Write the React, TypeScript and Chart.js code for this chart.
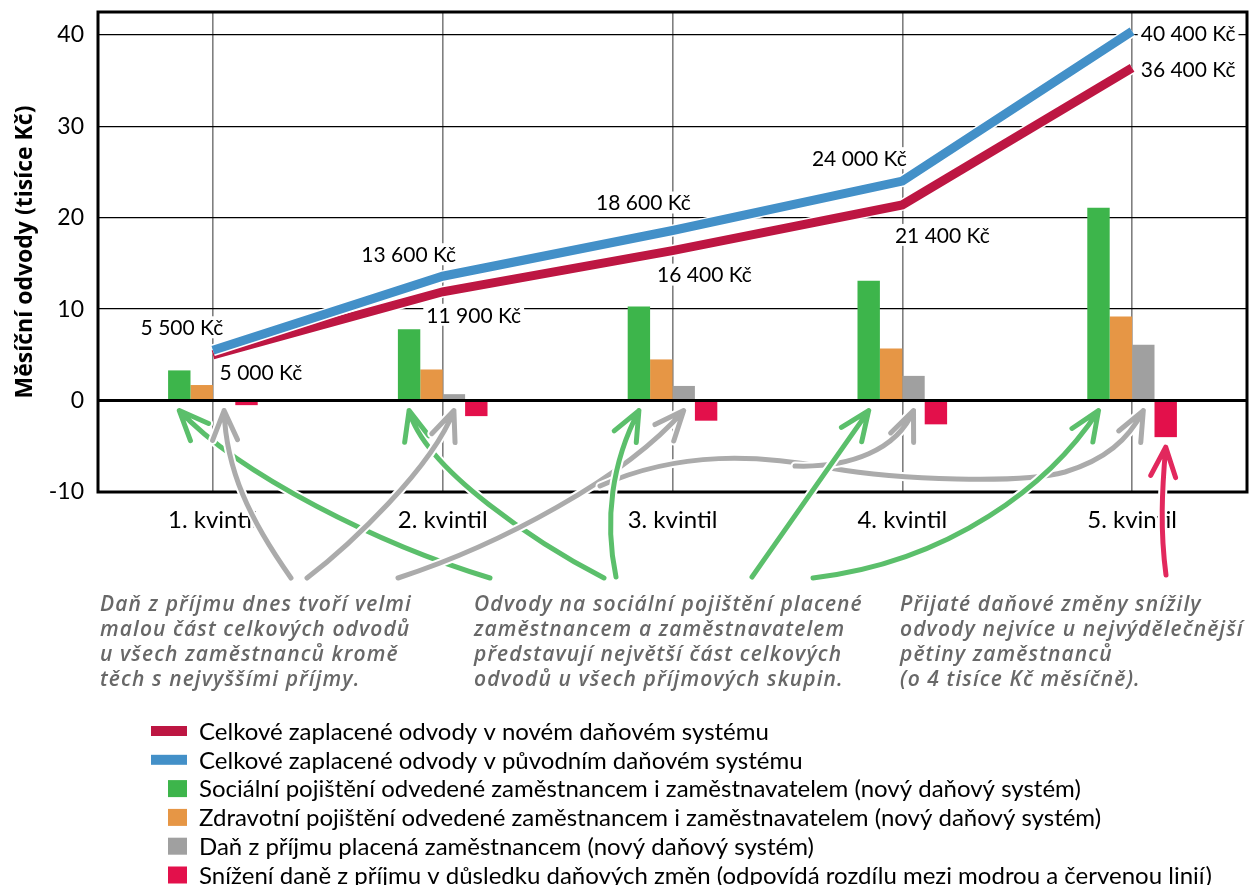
import React, { useEffect, useRef } from "react";
import { Chart, registerables } from "chart.js";

Chart.register(...registerables);

// ---------- data ----------
const categories = ["1. kvintil", "2. kvintil", "3. kvintil", "4. kvintil", "5. kvintil"];
const totalNewSystem = [5.0, 11.9, 16.4, 21.4, 36.4];
const totalOriginalSystem = [5.5, 13.6, 18.6, 24.0, 40.4];
const totalNewLabels = ["5 000 Kč", "11 900 Kč", "16 400 Kč", "21 400 Kč", "36 400 Kč"];
const totalOriginalLabels = ["5 500 Kč", "13 600 Kč", "18 600 Kč", "24 000 Kč", "40 400 Kč"];
const socialInsurance = [3.3, 7.8, 10.3, 13.1, 21.1];
const healthInsurance = [1.7, 3.4, 4.5, 5.7, 9.2];
const incomeTax = [0.1, 0.7, 1.6, 2.7, 6.1];
const taxCut = [-0.5, -1.7, -2.2, -2.6, -4.0];
const yTicks = [-10, 0, 10, 20, 30, 40];

const yTitle = "Měsíční odvody (tisíce Kč)";
const seriesNames = [
  "Celkové zaplacené odvody v novém daňovém systému",
  "Celkové zaplacené odvody v původním daňovém systému",
  "Sociální pojištění odvedené zaměstnancem i zaměstnavatelem (nový daňový systém)",
  "Zdravotní pojištění odvedené zaměstnancem i zaměstnavatelem (nový daňový systém)",
  "Daň z příjmu placená zaměstnancem (nový daňový systém)",
  "Snížení daně z příjmu v důsledku daňových změn (odpovídá rozdílu mezi modrou a červenou linií)",
];

const noteIncomeTax = [
  "Daň z příjmu dnes tvoří velmi",
  "malou část celkových odvodů",
  "u všech zaměstnanců kromě",
  "těch s nejvyššími příjmy.",
];
const noteSocial = [
  "Odvody na sociální pojištění placené",
  "zaměstnancem a zaměstnavatelem",
  "představují největší část celkových",
  "odvodů u všech příjmových skupin.",
];
const noteCut = [
  "Přijaté daňové změny snížily",
  "odvody nejvíce u nejvýdělečnější",
  "pětiny zaměstnanců",
  "(o 4 tisíce Kč měsíčně).",
];

// ---------- styles ----------
const C_RED_LINE = "#bd1642";
const C_BLUE_LINE = "#4390c8";
const C_GREEN = "#3db54b";
const C_ORANGE = "#e69645";
const C_GRAY = "#a0a0a0";
const C_CUT = "#e3104b";
const C_ARROW_GREEN = "#5bbf6b";
const C_ARROW_GRAY = "#ababab";
const C_ARROW_RED = "#e2285d";
const FONT = "Lato";
const NOTE_FONT = 'italic 600 21px "Open Sans"';

const origLabelOffsets: [number, number][] = [[-31, -23], [-34, -22], [-29, -28], [-43, -23], [56, 2]];
const newLabelOffsets: [number, number][] = [[48, 17], [31, 23], [32, 24], [40, 30], [56, 1]];

type Pt = [number, number];
interface ArrowSpec {
  color: string;
  path: Pt[];
  ds: number;
  idx: number;
  atEnd?: boolean;
}
// dataset indices: 4 social, 5 health, 6 tax, 7 cut
const arrows: ArrowSpec[] = [
  { color: C_ARROW_GREEN, path: [[490, 578], [380, 545], [240, 475]], ds: 4, idx: 0 },
  { color: C_ARROW_GREEN, path: [[604, 578], [540, 545], [425, 470]], ds: 4, idx: 1 },
  { color: C_ARROW_GRAY, path: [[291, 578], [250, 520], [226, 470]], ds: 6, idx: 0 },
  { color: C_ARROW_GRAY, path: [[307, 578], [350, 545], [432, 468]], ds: 6, idx: 1 },
  { color: C_ARROW_GRAY, path: [[398, 578], [500, 545], [625, 478]], ds: 6, idx: 2 },
  {
    color: C_ARROW_GRAY,
    path: [[600, 486], [680, 450], [760, 455], [830, 468], [900, 480], [1020, 484], [1065, 472], [1105, 460], [1128, 440]],
    ds: 6,
    idx: 4,
  },
  { color: C_ARROW_GRAY, path: [[795, 466], [850, 468], [897, 450]], ds: 6, idx: 3 },
  { color: C_ARROW_GREEN, path: [[616, 577], [604, 520], [612, 462]], ds: 4, idx: 2 },
  { color: C_ARROW_GREEN, path: [[752, 577], [792, 520], [832, 462]], ds: 4, idx: 3 },
  { color: C_ARROW_GREEN, path: [[813, 578], [950, 562], [1050, 485]], ds: 4, idx: 4 },
  { color: C_ARROW_RED, path: [[1166, 575], [1160, 530], [1162, 490]], ds: 7, idx: 4, atEnd: true },
];

const notes: { x: number; y: number; lines: string[] }[] = [
  { x: 100, y: 611, lines: noteIncomeTax },
  { x: 474, y: 611, lines: noteSocial },
  { x: 900, y: 611, lines: noteCut },
];

function drawArrow(ctx: CanvasRenderingContext2D, pts: Pt[], tip: Pt, color: string) {
  const k = pts.length / 3;
  const trace = () => {
    ctx.beginPath();
    ctx.moveTo(pts[0][0], pts[0][1]);
    for (let s = 0; s < k; s++) {
      const c1 = pts[1 + 3 * s];
      const c2 = pts[2 + 3 * s];
      const end = s === k - 1 ? tip : pts[3 + 3 * s];
      ctx.bezierCurveTo(c1[0], c1[1], c2[0], c2[1], end[0], end[1]);
    }
    const last = pts[pts.length - 1];
    const ang = Math.atan2(last[1] - tip[1], last[0] - tip[0]);
    const len = 32;
    const spread = 0.4;
    ctx.moveTo(tip[0] + Math.cos(ang + spread) * len, tip[1] + Math.sin(ang + spread) * len);
    ctx.lineTo(tip[0], tip[1]);
    ctx.lineTo(tip[0] + Math.cos(ang - spread) * len, tip[1] + Math.sin(ang - spread) * len);
  };
  ctx.lineCap = "round";
  ctx.lineJoin = "round";
  trace();
  ctx.strokeStyle = "#ffffff";
  ctx.lineWidth = 9;
  ctx.stroke();
  trace();
  ctx.strokeStyle = color;
  ctx.lineWidth = 5;
  ctx.stroke();
}

const framePlugin = {
  id: "frame",
  afterDatasetsDraw(chart: any) {
    const { ctx, chartArea, scales } = chart;
    const y0 = scales.y.getPixelForValue(0);
    ctx.save();
    ctx.strokeStyle = "#000";
    ctx.lineWidth = 3;
    ctx.beginPath();
    ctx.moveTo(chartArea.left, y0);
    ctx.lineTo(chartArea.right, y0);
    ctx.stroke();
    ctx.strokeRect(chartArea.left, chartArea.top, chartArea.right - chartArea.left, chartArea.bottom - chartArea.top);
    ctx.restore();
  },
};

const valueLabelPlugin = {
  id: "valueLabels",
  afterDatasetsDraw(chart: any) {
    const { ctx } = chart;
    ctx.save();
    ctx.font = `21px ${FONT}`;
    ctx.textAlign = "center";
    ctx.textBaseline = "middle";
    const sets: [number, string[], [number, number][]][] = [
      [0, totalOriginalLabels, origLabelOffsets],
      [2, totalNewLabels, newLabelOffsets],
    ];
    sets.forEach(([di, labels, offs]) => {
      const meta = chart.getDatasetMeta(di);
      meta.data.forEach((pt: any, i: number) => {
        const x = pt.x + offs[i][0];
        const y = pt.y + offs[i][1];
        const w = ctx.measureText(labels[i]).width;
        ctx.fillStyle = "#fff";
        ctx.fillRect(x - w / 2 - 3, y - 11, w + 6, 22);
        ctx.fillStyle = "#000";
        ctx.fillText(labels[i], x, y + 1);
      });
    });
    ctx.restore();
  },
};

const annotationPlugin = {
  id: "annotations",
  afterDraw(chart: any) {
    const { ctx, scales } = chart;
    const y0 = scales.y.getPixelForValue(0);
    ctx.save();
    arrows.forEach((a) => {
      const el = chart.getDatasetMeta(a.ds).data[a.idx];
      const tip: Pt = [el.x, a.atEnd ? el.y + 10 : y0 + 10];
      drawArrow(ctx, a.path, tip, a.color);
    });
    ctx.font = NOTE_FONT;
    (ctx as any).letterSpacing = "1.1px";
    ctx.fillStyle = "#686868";
    ctx.textAlign = "left";
    ctx.textBaseline = "alphabetic";
    notes.forEach((n) => {
      n.lines.forEach((line, i) => ctx.fillText(line, n.x, n.y + i * 25));
    });
    (ctx as any).letterSpacing = "0px";
    ctx.restore();
  },
};

const legendOrder = [2, 0, 4, 5, 6, 7];
const legendPlugin = {
  id: "customLegend",
  afterDraw(chart: any) {
    const { ctx } = chart;
    ctx.save();
    ctx.font = `24px ${FONT}`;
    ctx.textBaseline = "middle";
    ctx.textAlign = "left";
    legendOrder.forEach((di, row) => {
      const ds = chart.data.datasets[di];
      const y = 731 + row * 28.8;
      if (ds.type === "line") {
        ctx.fillStyle = ds.borderColor;
        ctx.fillRect(151, y - 5, 36, 10);
      } else {
        ctx.fillStyle = ds.backgroundColor;
        ctx.fillRect(168, y - 8.5, 19, 17);
      }
      ctx.fillStyle = "#000";
      ctx.fillText(ds.label, 199, y + 1);
    });
    ctx.restore();
  },
};

export default function App() {
  const ref = useRef<HTMLCanvasElement | null>(null);

  useEffect(() => {
    if (!ref.current) return;
    const lineBase = {
      type: "line" as const,
      pointRadius: 0,
      tension: 0,
      borderCapStyle: "butt" as const,
      borderJoinStyle: "miter" as const,
      fill: false,
    };
    const barBase = {
      type: "bar" as const,
      categoryPercentage: 0.39,
      barPercentage: 1,
      borderWidth: 0,
      order: 10,
    };
    const chart = new Chart(ref.current, {
      type: "bar",
      data: {
        labels: categories,
        datasets: [
          { ...lineBase, label: seriesNames[1], data: totalOriginalSystem, borderColor: C_BLUE_LINE, borderWidth: 9, order: 0 },
          { ...lineBase, label: "", data: totalOriginalSystem, borderColor: "#ffffff", borderWidth: 12, order: 1 },
          { ...lineBase, label: seriesNames[0], data: totalNewSystem, borderColor: C_RED_LINE, borderWidth: 9, order: 2 },
          { ...lineBase, label: "", data: totalNewSystem, borderColor: "#ffffff", borderWidth: 12, order: 3 },
          { ...barBase, label: seriesNames[2], data: socialInsurance, backgroundColor: C_GREEN },
          { ...barBase, label: seriesNames[3], data: healthInsurance, backgroundColor: C_ORANGE },
          { ...barBase, label: seriesNames[4], data: incomeTax, backgroundColor: C_GRAY },
          { ...barBase, label: seriesNames[5], data: taxCut, backgroundColor: C_CUT },
        ] as any,
      },
      options: {
        animation: false,
        responsive: false,
        devicePixelRatio: 1,
        layout: { padding: { left: 0, top: 12, right: 3, bottom: 333 } },
        plugins: {
          legend: { display: false },
          tooltip: { enabled: false },
        },
        scales: {
          x: {
            type: "category",
            offset: true,
            grid: { offset: false, color: "#7f7f7f", lineWidth: 1.6, drawTicks: false },
            border: { display: false },
            ticks: { font: { family: FONT, size: 24 }, color: "#000", padding: 14, maxRotation: 0 },
            afterFit: (s: any) => {
              s.height = 60;
              s.paddingLeft = 0;
              s.paddingRight = 0;
            },
          },
          y: {
            type: "linear",
            min: -10,
            max: 42.5,
            afterBuildTicks: (s: any) => {
              s.ticks = yTicks.map((v) => ({ value: v }));
            },
            grid: {
              color: "#000",
              lineWidth: (c: any) => (c.tick && c.tick.value === 0 ? 0 : 1.3),
              drawTicks: false,
            },
            border: { display: false },
            ticks: { font: { family: FONT, size: 23 }, color: "#000", padding: 14 },
            title: {
              display: true,
              text: yTitle,
              font: { family: "'Open Sans'", size: 23, weight: 700 },
              color: "#000",
              padding: { top: 12, bottom: 0 },
            },
            afterFit: (s: any) => {
              s.width = 98;
              s.paddingTop = 0;
              s.paddingBottom = 0;
            },
          },
        },
      } as any,
      plugins: [framePlugin, valueLabelPlugin, annotationPlugin, legendPlugin],
    });
    return () => chart.destroy();
  }, []);

  return (
    <div style={{ position: "absolute", left: 0, top: 0, width: 1250, height: 885, background: "#fff" }}>
      <canvas ref={ref} width={1250} height={885} />
    </div>
  );
}
